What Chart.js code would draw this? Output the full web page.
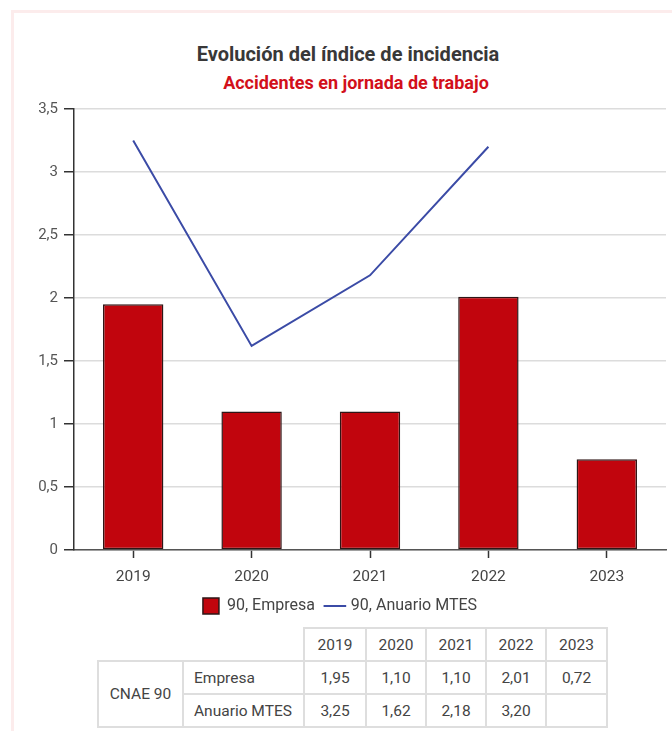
<!DOCTYPE html>
<html lang="es">
<head>
<meta charset="utf-8">
<script src="https://cdn.jsdelivr.net/npm/chart.js@4/dist/chart.umd.min.js"></script>
<style>
    body {
        margin: 0;
        width: 672px;
        height: 731px;
        overflow: hidden;
        background: #fff;
        font-family: Roboto, "Noto Sans", sans-serif;
        position: relative;
    }

    .frame {
        position: absolute;
        left: 11px;
        top: 10px;
        width: 661px;
        height: 721px;
        border-top: 3px solid #fcecec;
        border-left: 3px solid #fcecec;
        box-sizing: border-box;
    }

    .chart-title,
    .chart-subtitle {
        position: absolute;
        left: 0;
        text-align: center;
        font-weight: bold;
        white-space: nowrap;
    }

    .chart-title {
        top: 42px;
        width: 696px;
        font-size: 20px;
        line-height: 24px;
        color: #383838;
    }

    .chart-subtitle {
        top: 72px;
        width: 712px;
        font-size: 18px;
        line-height: 22px;
        color: #d2101a;
    }

    .chart-wrap {
        position: absolute;
        left: 0;
        top: 0;
        width: 672px;
        height: 624px;
    }

    .data-table {
        position: absolute;
        left: 97px;
        top: 627px;
        border-collapse: collapse;
        font-size: 15.5px;
        color: #444;
    }

    .data-table td {
        border: 2px solid #dedede;
        height: 31px;
        padding: 0;
        text-align: center;
    }

    .data-table td.blank {
        border: none;
    }

    .data-table td.row-label {
        text-align: left;
        padding-left: 10px;
    }
</style>
</head>
<body>
<div class="frame"></div>
<div class="chart-title">Evolución del índice de incidencia</div>
<div class="chart-subtitle">Accidentes en jornada de trabajo</div>
<div class="chart-wrap"><canvas id="incidence-chart"></canvas></div>
<table class="data-table" id="incidence-table"></table>

<script>
const years = ["2019", "2020", "2021", "2022", "2023"];
const empresaValues = [1.95, 1.10, 1.10, 2.01, 0.72];
const anuarioValues = [3.25, 1.62, 2.18, 3.20, null];
const yTicks = [0, 0.5, 1, 1.5, 2, 2.5, 3, 3.5];

const groupLabel = "CNAE 90";
const empresaLabel = "Empresa";
const anuarioLabel = "Anuario MTES";

function formatComma(value, digits) {
    if (value === null || value === undefined) {
        return "";
    }

    const text = digits === undefined ? String(value) : value.toFixed(digits);

    return text.replace(".", ",");
}

function buildTable() {
    const table = document.getElementById("incidence-table");
    const colWidths = [85, 121, 62, 60, 60, 60, 61];

    let html = "<colgroup>";
    colWidths.forEach((w) => {
        html += `<col style="width:${w}px">`;
    });
    html += "</colgroup>";

    html += '<tr><td class="blank" colspan="2"></td>';
    years.forEach((year) => {
        html += `<td>${year}</td>`;
    });
    html += "</tr>";

    html += `<tr><td rowspan="2">${groupLabel}</td><td class="row-label">${empresaLabel}</td>`;
    empresaValues.forEach((v) => {
        html += `<td>${formatComma(v, 2)}</td>`;
    });
    html += "</tr>";

    html += `<tr><td class="row-label">${anuarioLabel}</td>`;
    anuarioValues.forEach((v) => {
        html += `<td>${formatComma(v, 2)}</td>`;
    });
    html += "</tr>";

    table.innerHTML = html;
}

function initIncidenceChart() {
    const canvas = document.getElementById("incidence-chart");

    Chart.defaults.font.family = "Roboto, 'Noto Sans', sans-serif";

    new Chart(canvas, {
        type: "bar",
        data: {
            labels: years,
            datasets: [
                {
                    label: "90, Empresa",
                    data: empresaValues,
                    backgroundColor: "#c1050d",
                    borderColor: "#2e1616",
                    borderWidth: 1.5,
                    borderSkipped: false,
                    categoryPercentage: 1,
                    barPercentage: 0.51,
                    pointStyle: "rect",
                    order: 2,
                },
                {
                    type: "line",
                    label: "90, Anuario MTES",
                    data: anuarioValues,
                    borderColor: "#3b4ba6",
                    backgroundColor: "#3b4ba6",
                    borderWidth: 2,
                    pointRadius: 0,
                    pointStyle: "line",
                    tension: 0,
                    fill: false,
                    order: 1,
                },
            ],
        },
        options: {
            responsive: true,
            maintainAspectRatio: false,
            animation: false,
            layout: {
                padding: { left: 14, right: 6, top: 109, bottom: 0 },
            },
            plugins: {
                legend: {
                    position: "bottom",
                    labels: {
                        usePointStyle: true,
                        color: "#444",
                        font: { size: 16 },
                        padding: 12,
                        sort(a, b) {
                            return a.datasetIndex - b.datasetIndex;
                        },
                    },
                },
                tooltip: { enabled: false },
            },
            scales: {
                x: {
                    afterFit(scale) {
                        scale.height = 36;
                    },
                    grid: {
                        display: true,
                        drawOnChartArea: false,
                        drawTicks: true,
                        offset: false,
                        tickLength: 8,
                        tickColor: "#333",
                        tickWidth: 1.5,
                    },
                    border: {
                        display: true,
                        color: "#555",
                        width: 1.5,
                    },
                    ticks: {
                        color: "#444",
                        font: { size: 15.5 },
                        padding: 10,
                        maxRotation: 0,
                    },
                },
                y: {
                    min: 0,
                    max: 3.5,
                    afterFit(scale) {
                        scale.width = 60;
                    },
                    afterBuildTicks(scale) {
                        scale.ticks = yTicks.map((value) => ({ value }));
                    },
                    grid: {
                        color: "#dcdcdc",
                        lineWidth: 1.5,
                        drawTicks: true,
                        tickLength: 10,
                        tickColor: "#333",
                        tickWidth: 1.5,
                    },
                    border: {
                        display: true,
                        color: "#333",
                        width: 1.5,
                    },
                    ticks: {
                        color: "#555",
                        font: { size: 15 },
                        padding: 6,
                        callback(value) {
                            return formatComma(value);
                        },
                    },
                },
            },
        },
    });
}

buildTable();
initIncidenceChart();
</script>
</body>
</html>
